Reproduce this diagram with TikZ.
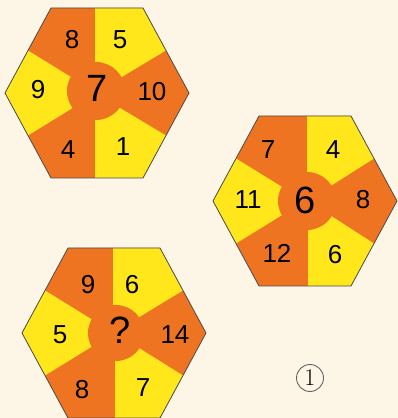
\documentclass[tikz,border=0pt]{standalone}
\usepackage{fontspec}
\newfontfamily\digitfont{Liberation Sans}
\definecolor{puzzleorange}{HTML}{EE7421}
\definecolor{puzzleyellow}{HTML}{FFE71C}
\definecolor{puzzlepaper}{HTML}{FDF5E5}
\newcommand{\hexoutline}{(92,0) -- (46,85) -- (-46,85) -- (-92,0) -- (-46,-85) -- (46,-85) -- cycle}

\begin{document}
\begin{tikzpicture}[x=1pt, y=1pt,
	hexedge/.style={draw=black!70, line width=0.8pt},
	sidenum/.style={font=\digitfont\fontsize{26}{26}\selectfont, inner sep=0pt},
	midnum/.style={font=\digitfont\fontsize{38}{38}\selectfont, inner sep=0pt}]
	\fill[puzzlepaper] (0,0) rectangle (398,418);
	\useasboundingbox (0,0) rectangle (398,418);
	% top left hexagon
	\begin{scope}[shift={(97,325)}]
		\fill[puzzleorange] \hexoutline;
		\fill[puzzleyellow] (-2,0) -- (-2,85) -- (46,85) -- (69,42.5) -- cycle;
		\fill[puzzleyellow] (0,0) -- (-69,42.5) -- (-92,0) -- (-69,-42.5) -- cycle;
		\fill[puzzleyellow] (-2,0) -- (69,-42.5) -- (46,-85) -- (-2,-85) -- cycle;
		\fill[puzzleorange] (-1,2) circle (29);
		\draw[hexedge] \hexoutline;
		\node[sidenum] (aTL) at (-25,53) {8};
		\node[sidenum] (aTR) at (23,53) {5};
		\node[sidenum] (aL) at (-59,3) {9};
		\node[midnum] (aC) at (0,5) {7};
		\node[sidenum] (aR) at (55,1) {10};
		\node[sidenum] (aBL) at (-29,-57) {4};
		\node[sidenum] (aBR) at (26,-54) {1};
	\end{scope}
	% right hexagon
	\begin{scope}[shift={(305,217)}]
		\fill[puzzleorange] \hexoutline;
		\fill[puzzleyellow] (2,0) -- (2,85) -- (46,85) -- (69,42.5) -- cycle;
		\fill[puzzleyellow] (0,0) -- (-69,42.5) -- (-92,0) -- (-69,-42.5) -- cycle;
		\fill[puzzleyellow] (3,0) -- (69,-42.5) -- (46,-85) -- (3,-85) -- cycle;
		\fill[puzzleorange] (2,0) circle (29);
		\draw[hexedge] \hexoutline;
		\node[sidenum] (bTL) at (-37,51) {7};
		\node[sidenum] (bTR) at (28,51) {4};
		\node[sidenum] (bL) at (-57,1) {11};
		\node[midnum] (bC) at (0,1) {6};
		\node[sidenum] (bR) at (58,1) {8};
		\node[sidenum] (bBL) at (-28,-52) {12};
		\node[sidenum] (bBR) at (30,-54) {6};
	\end{scope}
	% bottom hexagon
	\begin{scope}[shift={(114,85)}]
		\fill[puzzleorange] \hexoutline;
		\fill[puzzleyellow] (-1,0) -- (-1,85) -- (46,85) -- (69,42.5) -- cycle;
		\fill[puzzleyellow] (0,0) -- (-69,42.5) -- (-92,0) -- (-69,-42.5) -- cycle;
		\fill[puzzleyellow] (1,0) -- (69,-42.5) -- (46,-85) -- (1,-85) -- cycle;
		\fill[puzzleorange] (2,0) circle (28);
		\draw[hexedge] \hexoutline;
		\node[sidenum] (cTL) at (-26,48) {9};
		\node[sidenum] (cTR) at (18,48) {6};
		\node[sidenum] (cL) at (-54,-2) {5};
		\node[midnum] (cC) at (6,3) {?};
		\node[sidenum] (cR) at (61,-2) {14};
		\node[sidenum] (cBL) at (-32,-57) {8};
		\node[sidenum] (cBR) at (29,-55) {7};
	\end{scope}
	\node[draw=black!60, line width=0.9pt, circle, minimum size=27pt, inner sep=0pt, font=\fontsize{24}{24}\selectfont] (choice) at (310,40) {1};
\end{tikzpicture}
\end{document}
